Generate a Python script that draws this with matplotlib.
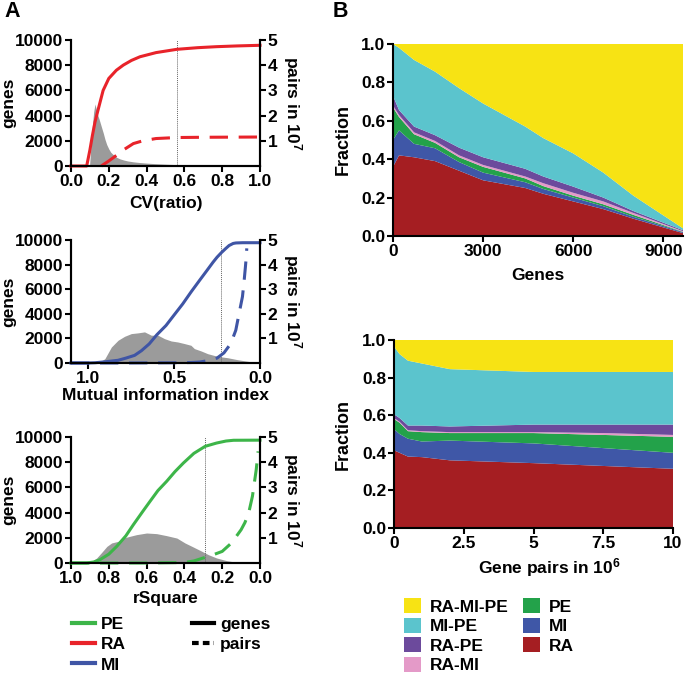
import matplotlib
matplotlib.use('Agg')
import matplotlib.pyplot as plt
from matplotlib.lines import Line2D
from matplotlib.patches import Patch

plt.rcParams['font.family'] = ['Liberation Sans', 'DejaVu Sans']
plt.rcParams['font.weight'] = 'bold'
plt.rcParams['axes.labelweight'] = 'bold'
plt.rcParams['mathtext.fontset'] = 'custom'
plt.rcParams['mathtext.rm'] = 'Liberation Sans:bold'
plt.rcParams['mathtext.bf'] = 'Liberation Sans:bold'
plt.rcParams['mathtext.default'] = 'bf'

# ---------------- Panel A data ----------------
# CV(ratio)
cv_hist_x = [0.08, 0.098, 0.105, 0.112, 0.12, 0.127, 0.132, 0.136, 0.142, 0.148, 0.153, 0.16,
             0.165, 0.171, 0.18, 0.189, 0.2, 0.21, 0.22, 0.24, 0.26, 0.28, 0.3, 0.33, 0.36,
             0.4, 0.44, 0.48, 0.52, 0.56, 0.6, 0.7, 0.8, 0.9, 1.0]
cv_hist_y = [0, 0, 1500, 3000, 4300, 4920, 4600, 4400, 4000, 3750, 3500, 3150,
             2900, 2600, 2100, 1700, 1350, 1100, 950, 700, 560, 470, 400, 330, 280,
             230, 190, 160, 130, 110, 90, 60, 40, 30, 20]
cv_genes_x = [0, 0.083, 0.1, 0.113, 0.127, 0.143, 0.17, 0.2, 0.24, 0.277, 0.32, 0.365,
              0.45, 0.56, 0.67, 0.77, 0.88, 1.0]
cv_genes_y = [0, 0, 1270, 2400, 3490, 4440, 6000, 6950, 7600, 8010, 8380, 8670,
              9000, 9260, 9390, 9470, 9530, 9580]
cv_pairs_x = [0.16, 0.2, 0.24, 0.28, 0.33, 0.38, 0.45, 0.56, 0.7, 1.0]
cv_pairs_y = [0, 0.2, 0.42, 0.65, 0.89, 1.0, 1.09, 1.13, 1.14, 1.15]
cv_cut = 0.56

# Mutual information index
mi_hist_x = [1.0, 0.942, 0.903, 0.865, 0.826, 0.788, 0.749, 0.71, 0.672, 0.633, 0.594, 0.556,
             0.517, 0.479, 0.44, 0.402, 0.382, 0.343, 0.305, 0.247, 0.189, 0.131, 0.073,
             0.015, 0.0]
mi_hist_y = [0, 0, 350, 1300, 1850, 2170, 2390, 2450, 2530, 2260, 2260, 1980,
             1790, 1710, 1580, 1440, 1170, 980, 760, 540, 430, 270, 140,
             30, 0]
mi_genes_x = [1.1, 1.0, 0.96, 0.9, 0.826, 0.78, 0.73, 0.69, 0.645, 0.6, 0.547, 0.5, 0.45, 0.4,
              0.35, 0.31, 0.273, 0.25, 0.225, 0.2, 0.18, 0.156, 0.14, 0.1, 0.0]
mi_genes_y = [0, 0, 20, 100, 220, 400, 620, 1000, 1550, 2300, 3050, 3900, 4800, 5800,
              6750, 7500, 8200, 8600, 8970, 9300, 9550, 9720, 9760, 9780, 9780]
mi_pairs_x = [1.1, 0.8, 0.5, 0.4, 0.35, 0.3, 0.25, 0.21, 0.17, 0.141, 0.122, 0.102, 0.092,
              0.085, 0.08, 0.077]
mi_pairs_y = [0, 0, 0.01, 0.02, 0.04, 0.1, 0.2, 0.41, 0.79, 1.33, 2.0, 2.7, 3.37,
              3.9, 4.3, 4.66]
mi_cut = 0.225

# rSquare
rs_hist_x = [1.0, 0.9, 0.864, 0.84, 0.81, 0.785, 0.75, 0.723, 0.688, 0.653, 0.6, 0.547, 0.494,
             0.44, 0.397, 0.36, 0.317, 0.273, 0.23, 0.176, 0.123, 0.088, 0.0]
rs_hist_y = [0, 0, 400, 800, 1320, 1590, 1720, 1980, 2120, 2250, 2380, 2330, 2170,
             1980, 1590, 1320, 1000, 660, 400, 185, 50, 0, 0]
rs_genes_x = [1.0, 0.917, 0.88, 0.847, 0.8, 0.758, 0.71, 0.67, 0.62, 0.582, 0.54, 0.494, 0.45,
              0.405, 0.35, 0.29, 0.23, 0.18, 0.14, 0.0]
rs_genes_y = [0, 0, 80, 260, 700, 1320, 2150, 3040, 4100, 4890, 5750, 6480, 7250,
              7940, 8700, 9260, 9520, 9680, 9740, 9750]
rs_pairs_x = [1.0, 0.6, 0.4, 0.35, 0.3, 0.25, 0.2, 0.15, 0.1, 0.08, 0.06, 0.04, 0.02, 0.01]
rs_pairs_y = [0, 0, 0.02, 0.08, 0.2, 0.32, 0.46, 0.8, 1.32, 1.6, 1.98, 2.65, 3.7, 4.43]
rs_cut = 0.29

# ---------------- Panel B data ----------------
layer_names = ['RA', 'MI', 'PE', 'RA-MI', 'RA-PE', 'MI-PE', 'RA-MI-PE']
layer_colors = ['#A51E22', '#3F57A7', '#23A24A', '#E49AC8', '#6C4A9C', '#5BC4CD', '#F7E314']

genes_x = [0, 200, 700, 1400, 2200, 3000, 4400, 5000, 6000, 7000, 8000, 9650]
genes_RA = [.36, .42, .41, .39, .34, .29, .25, .22, .18, .14, .09, .015]
genes_MI = [.14, .13, .07, .067, .045, .04, .03, .025, .02, .015, .01, .005]
genes_PE = [.17, .07, .05, .028, .025, .03, .02, .015, .01, .01, .01, .002]
genes_RAMI = [.01, .01, .01, .01, .01, .01, .01, .015, .015, .015, .01, .003]
genes_RAPE = [.05, .026, .03, .03, .04, .04, .04, .035, .032, .02, .01, .005]
genes_MIPE = [.27, .324, .347, .331, .31, .28, .22, .20, .173, .13, .08, .01]
genes_RAMIPE = [0, .02, .083, .144, .23, .31, .43, .49, .57, .67, .79, .96]

pairs_x = [0, 0.05, 0.2, 0.5, 1.0, 2.0, 5.0, 7.5, 10]
pairs_RA = [.41, .41, .40, .38, .377, .36, .345, .33, .315]
pairs_MI = [.10, .11, .10, .095, .083, .105, .105, .095, .085]
pairs_PE = [.06, .055, .06, .04, .05, .04, .055, .07, .085]
pairs_RAMI = [.005, .005, .005, .005, .005, .005, .005, .01, .01]
pairs_RAPE = [.025, .02, .02, .025, .03, .03, .04, .045, .055]
pairs_MIPE = [.40, .355, .34, .345, .33, .305, .28, .28, .28]
pairs_RAMIPE = [0, .045, .075, .11, .125, .155, .17, .17, .17]

RED, BLUE, GREEN = '#E8232A', '#3F55A5', '#3DB549'
HIST = '#9B9B9B'

fig = plt.figure(figsize=(6.85, 6.77), dpi=100)
W, H = 685.0, 677.0
FS = 12.5


def rect(l, t, r, b):
    return [l / W, 1 - b / H, (r - l) / W, (b - t) / H]


def style_ticks(ax):
    ax.tick_params(axis='both', which='major', length=4, width=1.5, labelsize=FS,
                   direction='out', pad=1.5)
    for lbl in ax.get_xticklabels() + ax.get_yticklabels():
        lbl.set_fontweight('bold')


def panel_a(box, xlim, xticks, xticklabels, xlabel, hx, hy, gx, gy, px, py, color, cut, xlab_y):
    ax = fig.add_axes(rect(*box))
    w = box[2] - box[0]
    ax.fill_between(hx, hy, 0, color=HIST, lw=0)
    ax.axvline(cut, color='#666666', lw=0.7, ls=(0, (1, 1)))
    ax.plot(gx, gy, color=color, lw=2.2, clip_on=False)
    ax.set_xlim(*xlim)
    ax.set_ylim(0, 10000)
    ax.set_yticks([0, 2000, 4000, 6000, 8000, 10000])
    ax.set_xticks(xticks)
    ax.set_xticklabels(xticklabels)
    ax.set_ylabel('genes', fontsize=FS, va='center')
    ax.yaxis.set_label_coords((9 - box[0]) / w, 0.5)
    ax.set_xlabel(xlabel, fontsize=FS, va='center')
    ax.xaxis.set_label_coords(0.5, xlab_y)
    ax2 = ax.twinx()
    ax2.plot(px, py, color=color, lw=2.2, ls=(0, (6, 3.5)), clip_on=False)
    ax2.set_ylim(0, 5)
    ax2.set_yticks([1, 2, 3, 4, 5])
    ax2.set_ylabel('pairs in 10$^{7}$', fontsize=FS, rotation=270, va='center')
    ax2.yaxis.set_label_coords((292 - box[0]) / w, 0.5)
    for a in (ax, ax2):
        a.spines['top'].set_visible(False)
        for s in ('left', 'right', 'bottom'):
            a.spines[s].set_linewidth(1.5)
        style_ticks(a)
    return ax


panel_a((71, 40, 260, 166), (0, 1), [0, .2, .4, .6, .8, 1.0],
        ['0.0', '0.2', '0.4', '0.6', '0.8', '1.0'], 'CV(ratio)',
        cv_hist_x, cv_hist_y, cv_genes_x, cv_genes_y, cv_pairs_x, cv_pairs_y, RED, cv_cut,
        -(203 - 166) / 126)
panel_a((71, 240, 260, 363), (1.1, 0), [1.0, 0.5, 0.0],
        ['1.0', '0.5', '0.0'], 'Mutual information index',
        mi_hist_x, mi_hist_y, mi_genes_x, mi_genes_y, mi_pairs_x, mi_pairs_y, BLUE, mi_cut,
        -(396 - 363) / 123)
panel_a((71, 437, 260, 563), (1.0, 0), [1.0, .8, .6, .4, .2, 0.0],
        ['1.0', '0.8', '0.6', '0.4', '0.2', '0.0'], 'rSquare',
        rs_hist_x, rs_hist_y, rs_genes_x, rs_genes_y, rs_pairs_x, rs_pairs_y, GREEN, rs_cut,
        -(598 - 563) / 126)


def panel_b(box, x, layers, xlim, xticks, xticklabels, xlabel, xlab_x, xlab_y):
    ax = fig.add_axes(rect(*box))
    w = box[2] - box[0]
    ax.stackplot(x, *layers, colors=layer_colors, lw=0)
    ax.set_xlim(*xlim)
    ax.set_ylim(0, 1)
    ax.set_yticks([0, .2, .4, .6, .8, 1.0])
    ax.set_yticklabels(['0.0', '0.2', '0.4', '0.6', '0.8', '1.0'])
    ax.set_xticks(xticks)
    ax.set_xticklabels(xticklabels)
    ax.set_ylabel('Fraction', fontsize=FS + 0.5, va='center')
    ax.yaxis.set_label_coords((343 - box[0]) / w, 0.5)
    ax.set_xlabel(xlabel, fontsize=FS, va='center')
    ax.xaxis.set_label_coords(xlab_x, xlab_y)
    for s in ('top', 'right'):
        ax.spines[s].set_visible(False)
    for s in ('left', 'bottom'):
        ax.spines[s].set_linewidth(1.5)
    style_ticks(ax)
    return ax


panel_b((393, 44, 683, 236), genes_x,
        [genes_RA, genes_MI, genes_PE, genes_RAMI, genes_RAPE, genes_MIPE, genes_RAMIPE],
        (0, 9650), [0, 3000, 6000, 9000], ['0', '3000', '6000', '9000'], 'Genes',
        0.5, -(275.5 - 236) / 192)
panel_b((394, 340, 673, 528), pairs_x,
        [pairs_RA, pairs_MI, pairs_PE, pairs_RAMI, pairs_RAPE, pairs_MIPE, pairs_RAMIPE],
        (0, 10), [0, 2.5, 5, 7.5, 10], ['0', '2.5', '5', '7.5', '10'], 'Gene pairs in 10$^{6}$',
        (549 - 394) / 279, -(568 - 528) / 188)

fig.text(4 / W, 1 - 1 / H, 'A', fontsize=15.5, fontweight='bold', va='top', ha='left')
fig.text(333 / W, 1 - 1 / H, 'B', fontsize=15.5, fontweight='bold', va='top', ha='left')

# Legend A
handles_a = [Line2D([], [], color=GREEN, lw=3), Line2D([], [], color=RED, lw=3),
             Line2D([], [], color=BLUE, lw=3),
             Line2D([], [], color='black', lw=3),
             Line2D([], [], color='black', lw=3, ls=(0, (1.6, 1.0)))]
labels_a = ['PE', 'RA', 'MI', 'genes', 'pairs']
fig.legend(handles_a, labels_a, loc='upper left', bbox_to_anchor=(72 / W, 1 - 617 / H),
           ncol=2, frameon=False, fontsize=FS, handlelength=1.3, handletextpad=0.35,
           columnspacing=3.8, labelspacing=0.29, borderpad=0, borderaxespad=0)

# Legend B
order = [6, 5, 4, 3, 2, 1, 0]
handles_b = [Patch(facecolor=layer_colors[i], edgecolor='none') for i in order]
labels_b = [layer_names[i] for i in order]
fig.legend(handles_b, labels_b, loc='upper left', bbox_to_anchor=(404 / W, 1 - 598 / H),
           ncol=2, frameon=False, fontsize=FS, handlelength=0.98, handleheight=0.98,
           handletextpad=0.52, columnspacing=0.8, labelspacing=0.17, borderpad=0,
           borderaxespad=0)

fig.savefig('out.png', dpi=100)
